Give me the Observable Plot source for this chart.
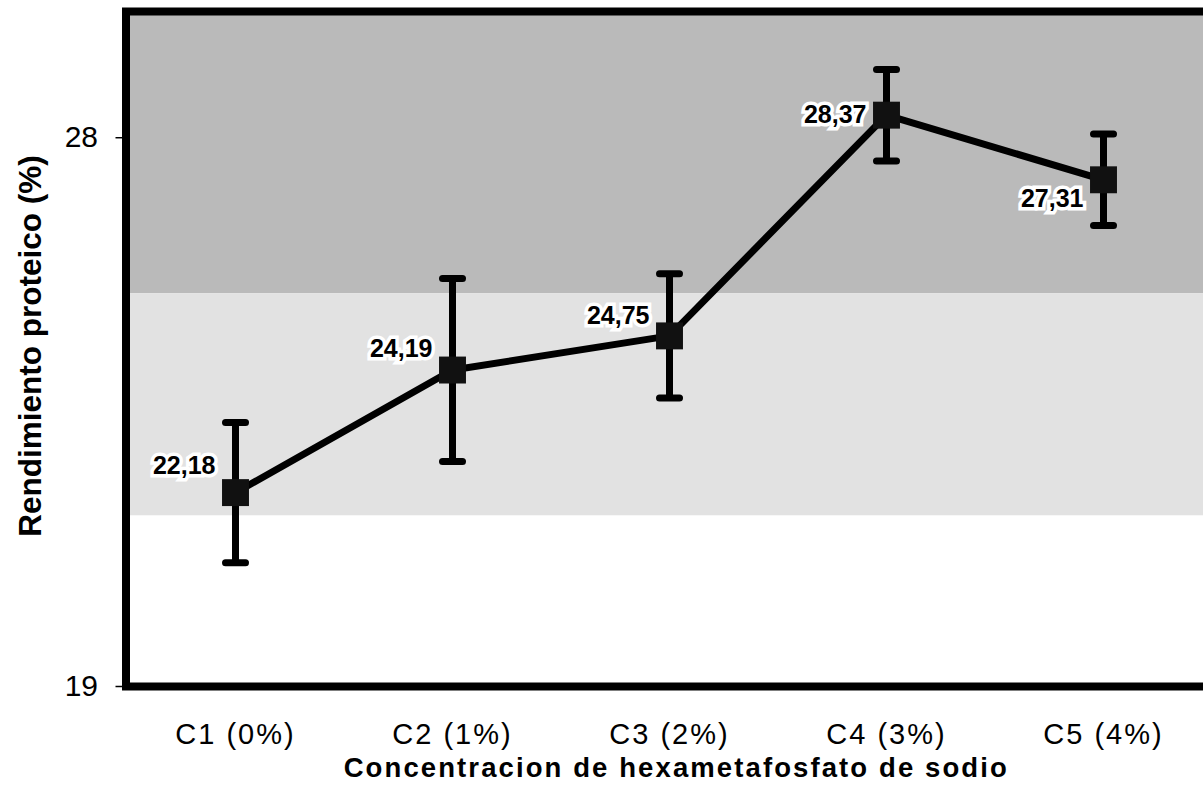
<!DOCTYPE html>
<html><head><meta charset="utf-8">
<script src="https://cdn.jsdelivr.net/npm/d3@7"></script>
<script src="https://cdn.jsdelivr.net/npm/@observablehq/plot@0.6"></script>
<style>
html,body{margin:0;padding:0;background:#fff;overflow:hidden}
#chart svg{overflow:hidden;display:block}
</style>
</head><body><div id="chart"></div>
<script>
// ---- data ----
const categories = ["C1 (0%)", "C2 (1%)", "C3 (2%)", "C4 (3%)", "C5 (4%)"];
const values = [22.18, 24.19, 24.75, 28.37, 27.31];
const errors = [1.15, 1.5, 1.02, 0.75, 0.75];
const labels = ["22,18", "24,19", "24,75", "28,37", "27,31"];
const yTicks = [19, 28];
const bandLow = [25.44, 21.8];
const bandHigh = [30.07, 25.44];
const yDomain = [19, 30.07];
const xTitle = "Concentracion de hexametafosfato de sodio";
const yTitle = "Rendimiento proteico (%)";

// ---- table built from arrays ----
const rows = categories.map((c, i) => ({
  cat: c, v: values[i], lo: values[i] - errors[i], hi: values[i] + errors[i], label: labels[i]
}));
const bands = bandLow.map((lo, i) => ({lo, hi: bandHigh[i], idx: i}));

// style config
const bandColors = ["#bababa", "#e2e2e2"];
const labelDy = [-27, -21, -20, 0, 19];
const font = "'Liberation Sans', Arial, sans-serif";

const capSymbol = {
  draw(ctx, size) {
    const r = Math.sqrt(size / Math.PI);
    ctx.moveTo(-r, 0);
    ctx.lineTo(r, 0);
  }
};

const labelMarks = rows.map((d, i) => Plot.text([d], {
  x: "cat", y: "v", text: "label", textAnchor: "end", dx: -20, dy: labelDy[i],
  fontSize: 25, fontWeight: "bold", fill: "black", stroke: "white", strokeWidth: 7,
  strokeLinejoin: "miter"
}));

const chart = Plot.plot({
  width: 1203,
  height: 790,
  marginLeft: 125.5,
  marginRight: -9,
  marginTop: 11,
  marginBottom: 104,
  style: {fontFamily: font, background: "white", color: "black"},
  x: {type: "point", domain: categories, padding: 0.5, label: null},
  y: {domain: yDomain, label: null},
  marks: [
    Plot.rect(bands, {y1: "lo", y2: "hi", fill: d => bandColors[d.idx]}),
    Plot.ruleX(rows, {x: "cat", y1: "lo", y2: "hi", stroke: "black", strokeWidth: 7}),
    Plot.dot(rows, {x: "cat", y: "lo", symbol: capSymbol, r: 10, stroke: "black", strokeWidth: 7, strokeLinecap: "round", fill: "none"}),
    Plot.dot(rows, {x: "cat", y: "hi", symbol: capSymbol, r: 10, stroke: "black", strokeWidth: 7, strokeLinecap: "round", fill: "none"}),
    Plot.line(rows, {x: "cat", y: "v", stroke: "black", strokeWidth: 7}),
    Plot.dot(rows, {x: "cat", y: "v", symbol: "square", r: 15.2, fill: "#111", stroke: "none"}),
    ...labelMarks,
    Plot.frame({stroke: "black", strokeWidth: 8}),
    Plot.axisY({ticks: yTicks, tickSize: 10, tickPadding: 18, fontSize: 30, tickFormat: d => String(d), label: null, strokeWidth: 1.5}),
    Plot.axisX({tickSize: 0, tickPadding: 37, fontSize: 29, label: null}),
    Plot.text([xTitle], {frameAnchor: "bottom", dy: 82, dx: 7, fontSize: 27.5, fontWeight: "bold", lineAnchor: "middle", textAnchor: "middle"}),
    Plot.text([yTitle], {frameAnchor: "left", dx: -95, dy: -3, rotate: -90, fontSize: 31.5, fontWeight: "bold", lineAnchor: "middle", textAnchor: "middle"})
  ]
});

document.getElementById("chart").appendChild(chart);
const svg = d3.select(chart);
svg.selectAll("g[aria-label='x-axis tick label'] text").style("letter-spacing", "2px");
svg.selectAll("g[aria-label='text'] text").filter(function(){ return this.textContent === xTitle; }).style("letter-spacing", "2.1px");
</script>
</body></html>
